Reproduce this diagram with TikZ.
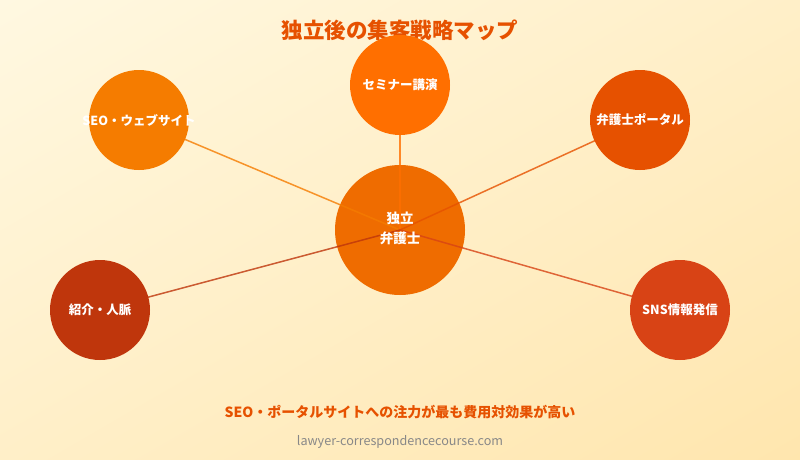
\documentclass[tikz,border=0pt]{standalone}
\usepackage{fontspec}
\setmainfont{Noto Sans CJK JP}
\usetikzlibrary{backgrounds,shadings}
\definecolor{cSeo}{HTML}{F57C00}
\definecolor{cSem}{HTML}{FF6F00}
\definecolor{cPor}{HTML}{E65100}
\definecolor{cHub}{HTML}{EF6C00}
\definecolor{cInt}{HTML}{BF360C}
\definecolor{cSns}{HTML}{D84315}
\definecolor{bgA}{HTML}{FFF8E1}
\definecolor{bgB}{HTML}{FFE6AE}
\definecolor{bgM}{HTML}{FFEFC8}
\definecolor{urlc}{HTML}{888888}
\pgfdeclarelayer{bg}
\pgfdeclarelayer{lines}
\pgfsetlayers{bg,lines,main}
\tikzset{
  hubnode/.style={circle, fill=cHub, minimum size=130pt, inner sep=0pt},
  sat/.style={circle, minimum size=100pt, inner sep=0pt},
  lbl/.style={text=white, font=\fontsize{12.5}{15}\selectfont\bfseries, inner sep=0pt},
  link/.style={line width=1.5pt, opacity=0.8},
}
\begin{document}
\begin{tikzpicture}[x=1pt,y=-1pt]
\useasboundingbox (0,0) rectangle (800,460);
\begin{pgfonlayer}{bg}
\shade[upper left=bgA, upper right=bgM, lower left=bgM, lower right=bgB] (0,0) rectangle (800,460);
\node[hubnode] (hub) at (400,230) {};
\end{pgfonlayer}
\node[text=cPor, font=\fontsize{21.5}{26}\selectfont\bfseries] (title) at (400,30) {独立後の集客戦略マップ};
\node[sat, fill=cSeo] (seo) at (139,120) {};
\node[sat, fill=cSem] (sem) at (400,85) {};
\node[sat, fill=cPor] (por) at (640,120) {};
\node[sat, fill=cInt] (int) at (100,310) {};
\node[sat, fill=cSns] (sns) at (680,310) {};
\begin{pgfonlayer}{lines}
\draw[link, cSeo] (seo.center) -- (hub.center);
\draw[link, cSem] (sem.center) -- (hub.center);
\draw[link, cPor] (por.center) -- (hub.center);
\draw[link, cInt] (int.center) -- (hub.center);
\draw[link, cSns] (sns.center) -- (hub.center);
\end{pgfonlayer}
\node[lbl] (tseo) at (seo) {SEO・ウェブサイト};
\node[lbl] (tsem) at (sem) {セミナー講演};
\node[lbl] (tpor) at (por) {弁護士ポータル};
\node[lbl] (tint) at (int) {紹介・人脈};
\node[lbl] (tsns) at (sns) {SNS情報発信};
\node[text=white, font=\fontsize{13.5}{20}\selectfont\bfseries, align=center, inner sep=0pt] (thub) at (400,228) {独立\\弁護士};
\node[text=cPor, font=\fontsize{14}{17}\selectfont\bfseries] (note) at (400,412) {SEO・ポータルサイトへの注力が最も費用対効果が高い};
\node[text=urlc, font=\fontsize{12.6}{15}\selectfont] (url) at (400,442) {lawyer-correspondencecourse.com};
\end{tikzpicture}
\end{document}
